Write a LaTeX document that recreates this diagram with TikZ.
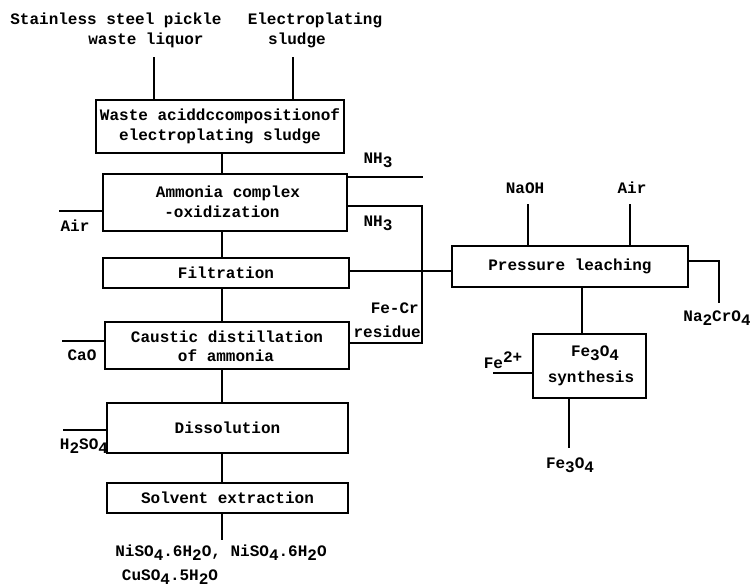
\documentclass[tikz,border=0pt]{standalone}
\usepackage{fontspec}
\setmainfont{Liberation Mono}
\newcommand\dn[1]{\raisebox{-0.5ex}{#1}}
\newcommand\up[1]{\raisebox{0.7ex}{#1}}
\begin{document}
\begin{tikzpicture}[x=1pt,y=-1pt,
  every node/.style={font=\fontsize{16}{19}\selectfont\bfseries, inner sep=0pt},
  box/.style={draw, line width=2pt, align=center},
  lbl/.style={align=center},
  conn/.style={line width=1.1pt}]
\useasboundingbox (0,0) rectangle (750,587);
% boxes
\node[box, minimum width=248, minimum height=53] (b1) at (220,126.5) {};
\node[lbl] (t1a) at (220,116) {Waste aciddccompositionof};
\node[lbl] (t1b) at (220,136) {electroplating sludge};
\node[box, minimum width=244, minimum height=57] (b2) at (225,202.5) {};
\node[lbl] (t2a) at (228,193) {Ammonia complex};
\node[lbl] (t2b) at (222,212) {-oxidization};
\node[box, minimum width=246, minimum height=30] (b3) at (226,273) {Filtration};
\node[box, minimum width=244, minimum height=47] (b4) at (227,345.5) {};
\node[lbl] (t4a) at (227,337) {Caustic distillation};
\node[lbl] (t4b) at (226,356) {of ammonia};
\node[box, minimum width=241, minimum height=50] (b5) at (227.5,428) {Dissolution};
\node[box, minimum width=241, minimum height=30] (b6) at (227.5,498) {Solvent extraction};
\node[box, minimum width=236, minimum height=41] (pl) at (570,266.5) {Pressure leaching};
\node[box, minimum width=113, minimum height=64] (sy) at (589.5,366) {};
\node[lbl] (tsa) at (595,353) {Fe\dn{3}O\dn{4}};
\node[lbl] (tsb) at (591,378) {synthesis};
% labels
\node (s1a) at (116,20) {Stainless steel pickle};
\node (s1b) at (146,40) {waste liquor};
\node (s2a) at (315,20) {Electroplating};
\node (s2b) at (297,40) {sludge};
\node (nh1) at (378,160) {NH\dn{3}};
\node (nh2) at (378,223) {NH\dn{3}};
\node (air1) at (75,226) {Air};
\node[anchor=east] (fecr) at (419,308) {Fe-Cr};
\node[anchor=east] (res) at (421,332) {residue};
\node (cao) at (82,355) {CaO};
\node (h2so4) at (84,446) {H\dn{2}SO\dn{4}};
\node (naoh) at (525,188) {NaOH};
\node (air2) at (632,188) {Air};
\node (na2) at (717,318) {Na\dn{2}CrO\dn{4}};
\node (fe2) at (503,360) {Fe\up{2+}};
\node (fe3) at (570,465) {Fe\dn{3}O\dn{4}};
\node (p1) at (221,553) {NiSO\dn{4}.6H\dn{2}O, NiSO\dn{4}.6H\dn{2}O};
\node (p2) at (170,577) {CuSO\dn{4}.5H\dn{2}O};
% coordinates
\coordinate (sp) at (222,0);
\coordinate (in1) at (154,57);
\coordinate (in2) at (293,57);
\coordinate (nhe) at (423,177);
\coordinate (lt) at (422,206);
\coordinate (lb) at (422,343);
\coordinate (fl) at (400,271);
\coordinate (aire) at (59,211);
\coordinate (caoe) at (62,341);
\coordinate (h2e) at (63,430);
\coordinate (oute) at (222,540);
\coordinate (naohe) at (528,204);
\coordinate (aire2) at (630,204);
\coordinate (nat) at (719,261);
\coordinate (nab) at (719,303);
\coordinate (pv) at (582,0);
\coordinate (fe2e) at (493,373);
\coordinate (fe3e) at (569,448);
% connectors
\draw[conn] (in1) -- (b1.north -| in1);
\draw[conn] (in2) -- (b1.north -| in2);
\draw[conn] (b1.south -| sp) -- (b2.north -| sp);
\draw[conn] (b2.south -| sp) -- (b3.north -| sp);
\draw[conn] (b3.south -| sp) -- (b4.north -| sp);
\draw[conn] (b4.south -| sp) -- (b5.north -| sp);
\draw[conn] (b5.south -| sp) -- (b6.north -| sp);
\draw[conn] (b6.south -| sp) -- (oute);
\draw[conn] (b2.east |- nhe) -- (nhe);
\draw[conn] (b2.east |- lt) -- (lt) -- (lb) -- (b4.east |- lb);
\draw[conn] (b3.east |- fl) -- (pl.west |- fl);
\draw[conn] (aire) -- (b2.west |- aire);
\draw[conn] (caoe) -- (b4.west |- caoe);
\draw[conn] (h2e) -- (b5.west |- h2e);
\draw[conn] (naohe) -- (pl.north -| naohe);
\draw[conn] (aire2) -- (pl.north -| aire2);
\draw[conn] (pl.east |- nat) -- (nat) -- (nab);
\draw[conn] (pl.south -| pv) -- (sy.north -| pv);
\draw[conn] (fe2e) -- (sy.west |- fe2e);
\draw[conn] (sy.south -| fe3e) -- (fe3e);
\end{tikzpicture}
\end{document}
